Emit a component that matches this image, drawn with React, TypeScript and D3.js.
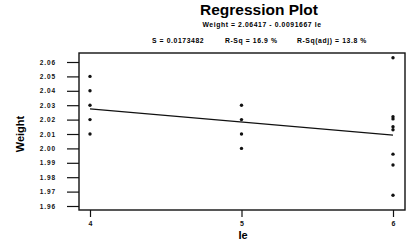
import React, { useRef, useEffect } from 'react';
import * as d3 from 'd3';

const ieValues = [4, 4, 4, 4, 4, 5, 5, 5, 5, 6, 6, 6, 6, 6, 6, 6, 6];
const weightValues = [
  2.05, 2.04, 2.03, 2.02, 2.01,
  2.03, 2.02, 2.01, 2.0,
  2.063, 2.022, 2.0205, 2.015, 2.013, 1.996, 1.9885, 1.9675,
];
const yTicks = [1.96, 1.97, 1.98, 1.99, 2.0, 2.01, 2.02, 2.03, 2.04, 2.05, 2.06];
const xTicks = [4, 5, 6];
// fitted line: Weight = intercept + slope * Ie
const intercept = 2.06417;
const slope = -0.0091667;

const W = 407;
const H = 243;
const font = 'Liberation Sans, Arial, sans-serif';

const App = () => {
  const svgRef = useRef<SVGSVGElement>(null);

  useEffect(() => {
    const svg = d3.select(svgRef.current).html('');

    // Scales
    const x = d3.scaleLinear().domain([4, 6]).range([90, 393]);
    const y = d3.scaleLinear().domain([1.96, 2.06]).range([206, 62]);
    const box = { left: 79, right: 405, top: 53, bottom: 210 };

    svg.append('rect').attr('width', W).attr('height', H).attr('fill', '#fff');

    // Titles
    svg.append('text')
      .attr('x', 259).attr('y', 15)
      .attr('text-anchor', 'middle')
      .attr('font-family', font).attr('font-weight', 'bold').attr('font-size', 15.5)
      .text('Regression Plot');
    svg.append('text')
      .attr('x', 262).attr('y', 26.5)
      .attr('text-anchor', 'middle')
      .attr('font-family', font).attr('font-weight', 'bold').attr('font-size', 6.8)
      .attr('letter-spacing', 0.6)
      .text(`Weight = ${intercept.toFixed(5)} - ${Math.abs(slope).toFixed(7)} Ie`);
    const stats = [
      { x: 152, t: 'S = 0.0173482' },
      { x: 225, t: 'R-Sq = 16.9 %' },
      { x: 297, t: 'R-Sq(adj) = 13.8 %' },
    ];
    svg.selectAll('text.stat').data(stats).join('text')
      .attr('class', 'stat')
      .attr('x', d => d.x).attr('y', 42.5)
      .attr('font-family', font).attr('font-weight', 'bold').attr('font-size', 6.8)
      .attr('letter-spacing', 0.6)
      .text(d => d.t);

    // Frame
    svg.append('rect')
      .attr('x', box.left).attr('y', box.top)
      .attr('width', box.right - box.left).attr('height', box.bottom - box.top)
      .attr('fill', 'none').attr('stroke', '#111').attr('stroke-width', 1.4);

    // Y axis
    const yAxis = svg.append('g')
      .attr('transform', `translate(${box.left},0)`)
      .call(d3.axisLeft(y).tickValues(yTicks).tickFormat(d3.format('.2f')).tickSize(12).tickPadding(11));
    yAxis.select('.domain').remove();
    yAxis.selectAll('line').attr('stroke', '#111').attr('stroke-width', 1.2);
    yAxis.selectAll('text')
      .attr('font-family', font).attr('font-weight', 'bold').attr('font-size', 6.5)
      .attr('letter-spacing', 0.9).attr('fill', '#111');

    // X axis
    const xAxis = svg.append('g')
      .attr('transform', `translate(0,${box.bottom})`)
      .call(d3.axisBottom(x).tickValues(xTicks).tickFormat(d3.format('d')).tickSize(7).tickPadding(4));
    xAxis.select('.domain').remove();
    xAxis.selectAll('line').attr('stroke', '#111').attr('stroke-width', 1.2);
    xAxis.selectAll('text')
      .attr('font-family', font).attr('font-weight', 'bold').attr('font-size', 7).attr('fill', '#111');

    // Axis labels
    svg.append('text')
      .attr('transform', `translate(24,134) rotate(-90)`)
      .attr('text-anchor', 'middle')
      .attr('font-family', font).attr('font-weight', 'bold').attr('font-size', 11)
      .text('Weight');
    svg.append('text')
      .attr('x', 243).attr('y', 239)
      .attr('text-anchor', 'middle')
      .attr('font-family', font).attr('font-weight', 'bold').attr('font-size', 11)
      .text('Ie');

    // Regression line
    const ends = d3.extent(ieValues) as [number, number];
    svg.append('path')
      .datum(ends)
      .attr('fill', 'none').attr('stroke', '#111').attr('stroke-width', 1.3)
      .attr('d', d3.line<number>().x(d => x(d)).y(d => y(intercept + slope * d)));

    // Points
    svg.selectAll('circle.pt').data(ieValues).join('circle')
      .attr('class', 'pt')
      .attr('cx', d => x(d))
      .attr('cy', (_, i) => y(weightValues[i]))
      .attr('r', 1.7)
      .attr('fill', '#111');
  }, []);

  return (
    <svg
      ref={svgRef}
      width={W}
      height={H}
      style={{ position: 'absolute', left: 0, top: 0 }}
    />
  );
};

export default App;
